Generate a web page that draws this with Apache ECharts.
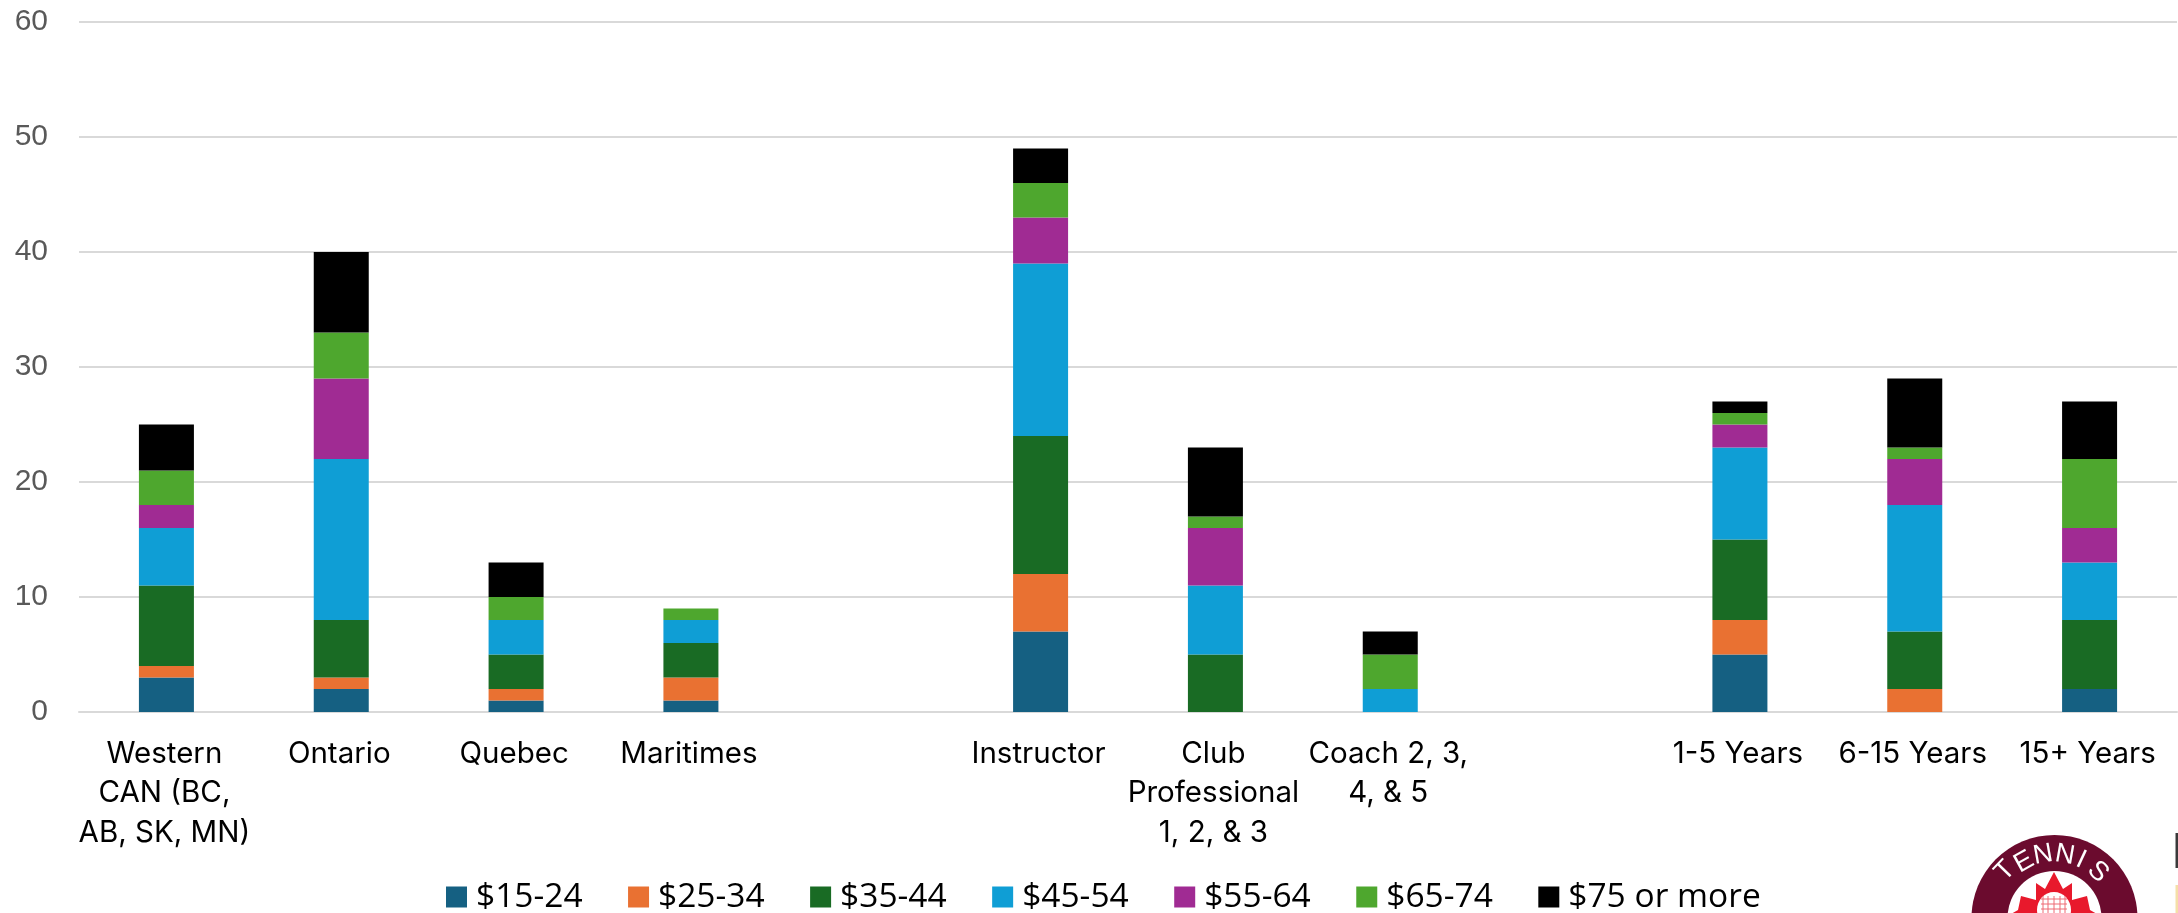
<!DOCTYPE html>
<html><head><meta charset="utf-8">
<style>html,body{margin:0;padding:0;background:#fff}#c{width:2178px;height:913px}</style>
<script src="https://cdn.jsdelivr.net/npm/echarts@6/dist/echarts.min.js"></script>
</head><body><div id="c"></div>
<script>
const categories = ['Western\nCAN (BC,\nAB, SK, MN)','Ontario','Quebec','Maritimes','','Instructor','Club\nProfessional\n1, 2, & 3','Coach 2, 3,\n4, & 5','','1-5 Years','6-15 Years','15+ Years'];
const s15_24 = [3,2,1,1,null,7,0,0,null,5,0,2];
const s25_34 = [1,1,1,2,null,5,0,0,null,3,2,0];
const s35_44 = [7,5,3,3,null,12,5,0,null,7,5,6];
const s45_54 = [5,14,3,2,null,15,6,2,null,8,11,5];
const s55_64 = [2,7,0,0,null,4,5,0,null,2,4,3];
const s65_74 = [3,4,2,1,null,3,1,3,null,1,1,6];
const s75up  = [4,7,3,0,null,3,6,2,null,1,6,5];
const seriesNames = ['$15-24','$25-34','$35-44','$45-54','$55-64','$65-74','$75 or more'];
const seriesValues = [s15_24,s25_34,s35_44,s45_54,s55_64,s65_74,s75up];
const colors = ['#156082','#E97132','#196B24','#0F9ED5','#A02B93','#4EA72E','#000000'];

const logoLetters = [['T',2005,871,-46],['E',2024,862,-29],['N',2043,855,-10],['N',2065,855,10],['I',2081,860,25],['S',2098,872,44]];
const leaf = [[2054,872],[2063,889],[2072,883],[2072,900],[2087,896],[2090,910],[2097,914],[2090,925],[2018,925],[2011,914],[2018,910],[2021,896],[2036,900],[2036,883],[2045,889]];
const meshX = [2043,2048,2054,2060,2065];
const meshY = [899,904,909];
const logo = [
  {type:'circle',shape:{cx:2054.5,cy:918,r:83},style:{fill:'#6B0B2E'}},
  {type:'circle',shape:{cx:2054.5,cy:918,r:47},style:{fill:'#fff'}},
  {type:'polygon',shape:{points:leaf},style:{fill:'#E8192C'}},
  {type:'ellipse',shape:{cx:2054,cy:910,rx:17,ry:18},style:{fill:'#fff'}},
  {type:'rect',shape:{x:2175.5,y:833,width:2.5,height:35},style:{fill:'#3a3a3a'}},
  {type:'rect',shape:{x:2175.5,y:885,width:2.5,height:28},style:{fill:'#F5DFA8'}}
];
meshX.forEach(x=>logo.push({type:'line',shape:{x1:x,y1:896,x2:x,y2:913},style:{stroke:'#EE6A75',lineWidth:1}}));
meshY.forEach(y=>logo.push({type:'line',shape:{x1:2041,y1:y,x2:2067,y2:y},style:{stroke:'#EE6A75',lineWidth:1}}));
logoLetters.forEach(([t,x,y,a])=>logo.push({type:'text',x,y,rotation:-a*Math.PI/180,originX:0,originY:0,
  style:{text:t,fill:'#fff',font:'27px "Liberation Sans"',align:'center',verticalAlign:'middle'}}));

const chart = echarts.init(document.getElementById('c'),null,{renderer:'canvas'});
chart.setOption({
  animation:false,
  backgroundColor:'#fff',
  color:colors,
  grid:{left:79,right:1,top:22,bottom:201,containLabel:false},
  legend:{left:446,top:880,padding:0,itemWidth:21,itemHeight:21,itemGap:45.5,icon:'rect',selectedMode:false,
    data:seriesNames,
    textStyle:{fontFamily:'Open Sans',fontSize:33.5,color:'#000',padding:[0,0,0,4]}},
  xAxis:{type:'category',data:categories,
    axisLine:{show:true,lineStyle:{color:'#D9D9D9',width:2}},axisTick:{show:false},
    axisLabel:{interval:0,margin:22,fontFamily:'Inter',fontSize:29.5,color:'#000',lineHeight:39.5,align:'center',padding:[0,4,0,0]}},
  yAxis:{type:'value',min:0,max:60,interval:10,
    axisLine:{show:false},axisTick:{show:false},
    splitLine:{lineStyle:{color:'#D9D9D9',width:2}},
    axisLabel:{margin:31,fontFamily:'Liberation Sans',fontSize:30,color:'#595959'}},
  series:seriesNames.map((name,i)=>({name,type:'bar',stack:'total',barWidth:55,data:seriesValues[i],itemStyle:{color:colors[i]}})),
  graphic:{elements:logo}
});
</script></body></html>
